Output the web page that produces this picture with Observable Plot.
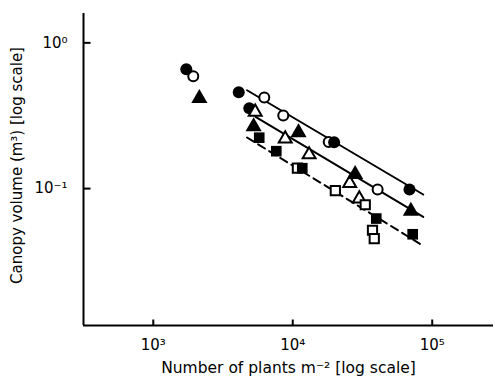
<!DOCTYPE html>
<html>
<head>
<meta charset="utf-8">
<script src="https://cdn.jsdelivr.net/npm/d3@7"></script>
<script src="https://cdn.jsdelivr.net/npm/@observablehq/plot@0.6"></script>
<style>
  html, body { margin: 0; padding: 0; background: #fff; }
  #chart svg { display: block; font-family: "DejaVu Sans", sans-serif; }
</style>
</head>
<body>
<div id="chart"></div>
<script>
// Plant density (plants m^-2) and canopy volume (m^3), both log scale
const filledCircleX = [1725, 4100, 4880, 19800, 68700];
const filledCircleY = [0.660, 0.459, 0.356, 0.208, 0.0986];
const openCircleX = [1935, 6250, 8550, 18100, 40600];
const openCircleY = [0.591, 0.421, 0.317, 0.209, 0.0986];
const filledTriangleX = [2140, 5240, 11000, 28000, 70300];
const filledTriangleY = [0.417, 0.266, 0.242, 0.1255, 0.070];
const openTriangleX = [5380, 8830, 13100, 25600, 30000];
const openTriangleY = [0.335, 0.220, 0.171, 0.1089, 0.0853];
const filledSquareX = [5750, 7620, 11700, 39700, 72400];
const filledSquareY = [0.2235, 0.1806, 0.138, 0.0623, 0.0486];
const openSquareX = [10800, 20200, 33100, 37300, 38400];
const openSquareY = [0.138, 0.0967, 0.0775, 0.0518, 0.0453];

// fitted lines (endpoints)
const lineCirclesX = [4700, 86200];
const lineCirclesY = [0.473, 0.0911];
const lineTrianglesX = [5410, 86200];
const lineTrianglesY = [0.3105, 0.0639];
const lineSquaresX = [4700, 84700];
const lineSquaresY = [0.2242, 0.0409];

const xTicks = [1e3, 1e4, 1e5];
const xTickLabels = ["10³", "10⁴", "10⁵"];
const yTicks = [1, 0.1];
const yTickLabels = ["10⁰", "10⁻¹"];
const xDomain = [316, 275000];
const yDomain = [0.0115, 1.59];
const xTitle = "Number of plants m⁻² [log scale]";
const yTitle = "Canopy volume (m³) [log scale]";

const pts = (xs, ys) => xs.map((x, i) => ({x, y: ys[i]}));

// short inward tick glyphs
const tickUp = {draw(ctx) { ctx.moveTo(0, 0); ctx.lineTo(0, -6); }};
const tickRight = {draw(ctx) { ctx.moveTo(0, 0); ctx.lineTo(7, 0); }};

const chart = Plot.plot({
  width: 495,
  height: 385,
  marginLeft: 83,
  marginRight: 2,
  marginTop: 13,
  marginBottom: 60,
  style: {background: "#fff", color: "#000"},
  x: {type: "log", domain: xDomain},
  y: {type: "log", domain: yDomain},
  marks: [
    Plot.ruleX([xDomain[0]], {stroke: "#000", strokeWidth: 2}),
    Plot.ruleY([yDomain[0]], {stroke: "#000", strokeWidth: 2}),
    Plot.dot(xTicks, {x: (d) => d, y: yDomain[0], symbol: tickUp, fill: "none", stroke: "#000", strokeWidth: 2}),
    Plot.dot(yTicks, {x: xDomain[0], y: (d) => d, symbol: tickRight, fill: "none", stroke: "#000", strokeWidth: 2}),
    Plot.axisX({ticks: xTicks, tickSize: 0, tickPadding: 14, fontSize: 15, fill: "#000",
      tickFormat: (d) => xTickLabels[xTicks.indexOf(d)], label: null}),
    Plot.axisY({ticks: yTicks, tickSize: 0, tickPadding: 16, fontSize: 15, fill: "#000",
      tickFormat: (d) => yTickLabels[yTicks.indexOf(d)], label: null}),
    Plot.text([xTitle], {text: (d) => d, frameAnchor: "bottom", textAnchor: "middle", dy: 47, fontSize: 15.5, fill: "#000"}),
    Plot.text([yTitle], {text: (d) => d, frameAnchor: "left", textAnchor: "middle", rotate: -90, dx: -66, dy: -4, fontSize: 15, fill: "#000"}),
    Plot.line(pts(lineCirclesX, lineCirclesY), {x: "x", y: "y", stroke: "#000", strokeWidth: 2}),
    Plot.line(pts(lineTrianglesX, lineTrianglesY), {x: "x", y: "y", stroke: "#000", strokeWidth: 2}),
    Plot.line(pts(lineSquaresX, lineSquaresY), {x: "x", y: "y", stroke: "#000", strokeWidth: 2, strokeDasharray: "8,5"}),
    Plot.dot(pts(openCircleX, openCircleY), {x: "x", y: "y", r: 5, fill: "#fff", stroke: "#000", strokeWidth: 2}),
    Plot.dot(pts(filledCircleX, filledCircleY), {x: "x", y: "y", r: 6, fill: "#000", stroke: "none"}),
    Plot.dot(pts(openTriangleX, openTriangleY), {x: "x", y: "y", symbol: "triangle", r: 4.8, fill: "#fff", stroke: "#000", strokeWidth: 2}),
    Plot.dot(pts(filledTriangleX, filledTriangleY), {x: "x", y: "y", symbol: "triangle", r: 6, fill: "#000", stroke: "none"}),
    Plot.dot(pts(openSquareX, openSquareY), {x: "x", y: "y", symbol: "square", r: 5.2, fill: "#fff", stroke: "#000", strokeWidth: 2}),
    Plot.dot(pts(filledSquareX, filledSquareY), {x: "x", y: "y", symbol: "square", r: 6, fill: "#000", stroke: "none"})
  ]
});
document.getElementById("chart").appendChild(chart);
</script>
</body>
</html>
